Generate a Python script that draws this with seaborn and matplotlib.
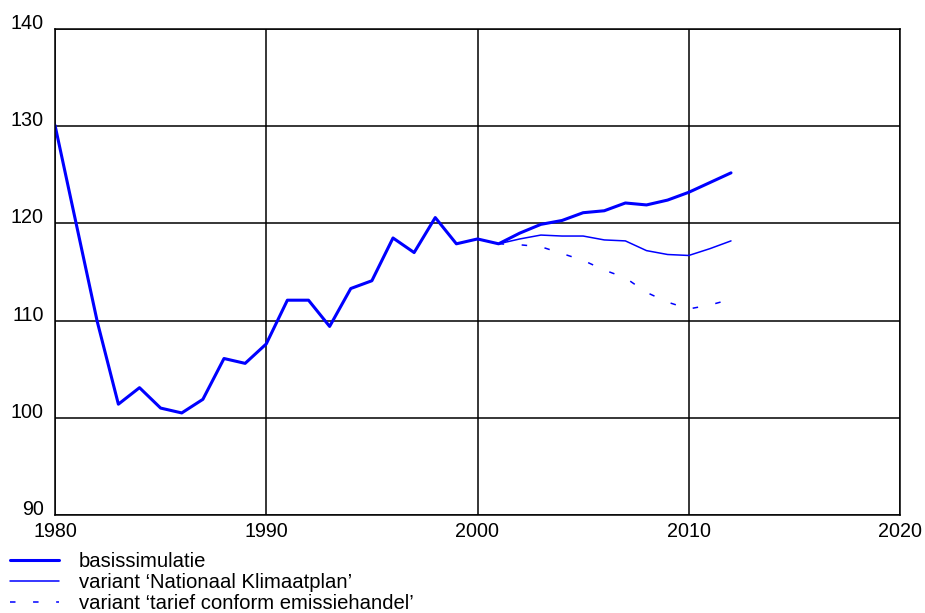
import matplotlib
matplotlib.use("Agg")
import matplotlib.pyplot as plt
import seaborn as sns
import pandas as pd

# basissimulatie, 1980-2012
base_years = list(range(1980, 2013))
base_values = [130.1, 120.0, 109.9, 101.4, 103.1, 101.0, 100.5, 101.9, 106.1, 105.6,
               107.6, 112.1, 112.1, 109.4, 113.3, 114.1, 118.5, 117.0, 120.6, 117.9,
               118.4, 117.9, 119.0, 119.9, 120.3, 121.1, 121.3, 122.1, 121.9, 122.4,
               123.2, 124.2, 125.2]

# variants, 2001-2012
var_years = list(range(2001, 2013))
klimaatplan_values = [117.9, 118.4, 118.8, 118.7, 118.7, 118.3, 118.2, 117.2, 116.8, 116.7, 117.4, 118.2]
emissiehandel_values = [117.9, 117.8, 117.6, 116.9, 116.2, 115.2, 114.4, 112.9, 111.9, 111.2, 111.6, 112.2]

labels = ["basissimulatie",
          "variant \u2018Nationaal Klimaatplan\u2019",
          "variant \u2018tarief conform emissiehandel\u2019"]

x_ticks = [1980, 1990, 2000, 2010, 2020]
y_ticks = [90, 100, 110, 120, 130, 140]

df_base = pd.DataFrame({"jaar": base_years, "waarde": base_values})
df_kp = pd.DataFrame({"jaar": var_years, "waarde": klimaatplan_values})
df_eh = pd.DataFrame({"jaar": var_years, "waarde": emissiehandel_values})

sns.set_style("white")
plt.rcParams["font.family"] = ["Liberation Sans", "DejaVu Sans"]
plt.rcParams["text.color"] = "black"

blue = "#0000FF"
fig = plt.figure(figsize=(9.25, 6.13), dpi=100)
ax = fig.add_axes([55 / 925, 1 - 515 / 613, 845 / 925, 486 / 613])

sns.lineplot(data=df_base, x="jaar", y="waarde", ax=ax, color=blue, lw=2.2, label=labels[0])
sns.lineplot(data=df_kp, x="jaar", y="waarde", ax=ax, color=blue, lw=1.1, label=labels[1])
sns.lineplot(data=df_eh, x="jaar", y="waarde", ax=ax, color=blue, lw=1.1,
             dashes=(3.6, 11.5), label=labels[2])

ax.set_xlim(1980, 2020)
ax.set_ylim(90, 140)
ax.set_xticks(x_ticks)
ax.set_yticks(y_ticks)
ax.set_xlabel("")
ax.set_ylabel("")
ax.grid(True, color="black", lw=1.1)
for s in ax.spines.values():
    s.set_color("black")
    s.set_linewidth(1.1)
ax.tick_params(axis="both", length=0, labelsize=14.2, colors="black", labelcolor="black")
ax.tick_params(axis="y", pad=8)
ax.tick_params(axis="x", pad=5)
for t in ax.get_yticklabels():
    t.set_va("baseline")

handles, lbls = ax.get_legend_handles_labels()
ax.get_legend().remove()
leg = fig.legend(handles, lbls, loc="upper left",
                 bbox_to_anchor=(10 / 925, 1 - 552 / 613), bbox_transform=fig.transFigure,
                 frameon=False, fontsize=14.6, handlelength=2.4, handletextpad=1.0,
                 labelspacing=0.1, borderpad=0.0, borderaxespad=0.0)
for t in leg.get_texts():
    t.set_color("black")

fig.savefig("out.png", dpi=100)
